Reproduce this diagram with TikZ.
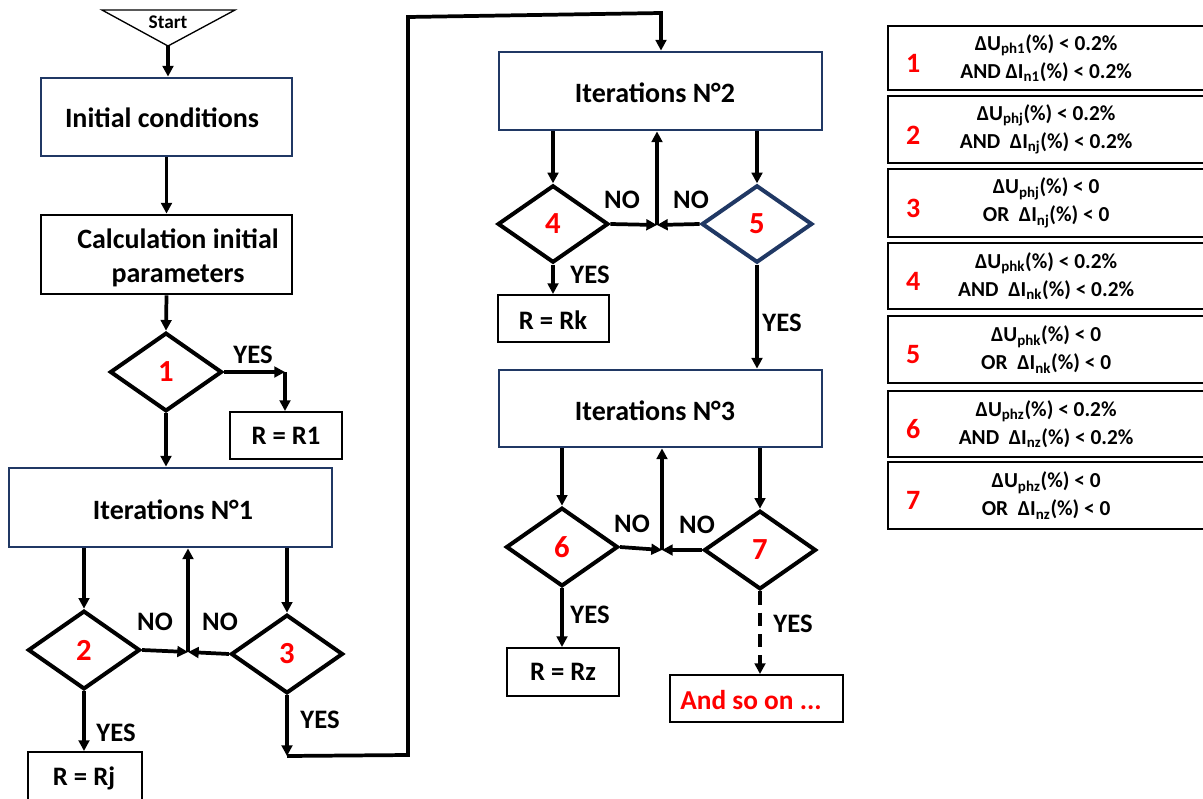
\documentclass[tikz,border=0pt]{standalone}
\usepackage{fontspec}
\setmainfont{Carlito}
\usetikzlibrary{shapes.geometric,arrows.meta,fit}
\definecolor{navy}{HTML}{203864}
\begin{document}
\begin{tikzpicture}[x=0.75pt,y=-0.75pt,
 font=\bfseries,
 arr/.style={line width=2.8pt,-{Triangle[length=8pt,width=8pt]}},
 box/.style={draw, line width=2.1pt, inner sep=0pt},
 navybox/.style={box, draw=navy},
 txt/.style={inner sep=0pt, font=\bfseries\fontsize{21}{26}\selectfont, align=center},
 rbox/.style={draw, line width=1.5pt, inner sep=0pt},
 rtxt/.style={inner sep=0pt, font=\bfseries\fontsize{20}{24}\selectfont},
 dia/.style={diamond, draw, line width=3pt, inner sep=0pt, minimum width=84pt, minimum height=59pt, text=red, font=\bfseries\fontsize{23}{26}\selectfont},
 lab/.style={font=\bfseries\fontsize{20}{24}\selectfont, inner sep=0pt},
 leg/.style={draw, line width=1.3pt, inner sep=0pt},
 legtxt/.style={align=center, inner sep=0pt, font=\bfseries\fontsize{16}{21}\selectfont},
 legnum/.style={text=red, inner sep=0pt, font=\bfseries\fontsize{21}{24}\selectfont}
]
\useasboundingbox (0,0) rectangle (1203,799);
% start
\coordinate (sa) at (168,46);
\draw[line width=1pt] (102,10) -- (235,10) -- (sa) -- cycle;
\node[inner sep=0pt, font=\bfseries\fontsize{14.5}{17}\selectfont] (start) at (168,22) {Start};
\node[navybox, fit={(41,78)(292,156)}] (init) {};
\node[txt] (initt) at (162,118) {Initial conditions};
\node[box, fit={(41,215)(292,294)}] (calc) {};
\node[txt] (calct) at (178,258) {Calculation initial\\parameters};
\node[dia] (d1) at (166,372) {1};
\node[rbox, fit={(230,412)(342,459)}] (r1) {};
\node[rtxt] (r1t) at (286,436) {R = R1};
\coordinate (c1) at (285,372);
\draw[arr] (sa) -- (sa |- init.north);
\draw[arr] (init.south) -- (calc.north);
\draw[arr] (calc.south) -- (d1.north);
\draw[arr] (d1.east) -- (c1);
\draw[arr] (c1) -- (c1 |- r1.north);
\node[lab] (y1) at (253,355) {YES};
% iteration 1
\node[navybox, fit={(9,468)(332,547)}] (it1) {};
\node[txt] (it1t) at (173,510) {Iterations N°1};
\draw[arr] (d1.south) -- (d1.south |- it1.north);
\node[dia] (d2) at (84,650) {2};
\node[dia] (d3) at (287,654) {3};
\coordinate (j1) at (188,652);
\draw[arr] (d2.north |- it1.south) -- (d2.north);
\draw[arr] (d3.north |- it1.south) -- (d3.north);
\draw[arr] (d2.east) -- (j1);
\draw[arr] (d3.west) -- (j1);
\draw[arr] (j1) -- (j1 |- it1.south);
\node[lab] (n1) at (155,622) {NO};
\node[lab] (n2) at (220,622) {NO};
\node[rbox, fit={(28,752)(142,810)}] (rj) {};
\node[rtxt] (rjt) at (84,778) {R = Rj};
\draw[arr] (d2.south) -- (d2.south |- rj.north);
\node[lab] (y2) at (116,733) {YES};
\coordinate (c3) at (287,756);
\draw[arr] (d3.south) -- (c3);
\node[lab] (y3) at (320,720) {YES};
% long connector
\node[navybox, fit={(499,52)(822,130)}] (it2) {};
\node[txt] (it2t) at (655,93) {Iterations N°2};
\coordinate (k1) at (408,755);
\coordinate (k2) at (408,17);
\coordinate (k3) at (661,13);
\draw[arr] (c3) -- (k1) -- (k2) -- (k3) -- (k3 |- it2.north);
% iteration 2
\node[dia, minimum width=83pt, minimum height=58pt] (d4) at (553,224) {4};
\node[dia, minimum width=83pt, minimum height=58pt, draw=navy] (d5) at (757,224) {5};
\coordinate (j2) at (657,225);
\draw[arr] (d4.north |- it2.south) -- (d4.north);
\draw[arr] (d5.north |- it2.south) -- (d5.north);
\draw[arr] (d4.east) -- (j2);
\draw[arr] (d5.west) -- (j2);
\draw[arr] (j2) -- (j2 |- it2.south);
\node[lab] (n3) at (622,200) {NO};
\node[lab] (n4) at (691,200) {NO};
\node[rbox, fit={(498,295)(609,342)}] (rk) {};
\node[rtxt] (rkt) at (553,320) {R = Rk};
\draw[arr] (d4.south) -- (d4.south |- rk.north);
\node[lab] (y4) at (590,275) {YES};
% iteration 3
\node[navybox, fit={(499,370)(822,447)}] (it3) {};
\node[txt] (it3t) at (655,411) {Iterations N°3};
\draw[arr] (d5.south) -- (d5.south |- it3.north);
\node[lab] (y5) at (782,323) {YES};
\node[dia] (d6) at (562,547) {6};
\node[dia] (d7) at (760,550) {7};
\coordinate (j3) at (662,550);
\draw[arr] (d6.north |- it3.south) -- (d6.north);
\draw[arr] (d7.north |- it3.south) -- (d7.north);
\draw[arr] (d6.east) -- (j3);
\draw[arr] (d7.west) -- (j3);
\draw[arr] (j3) -- (j3 |- it3.south);
\node[lab] (n5) at (632,524) {NO};
\node[lab] (n6) at (697,525) {NO};
\node[rbox, fit={(507,648)(619,696)}] (rz) {};
\node[rtxt] (rzt) at (563,672) {R = Rz};
\draw[arr] (d6.south) -- (d6.south |- rz.north);
\node[lab] (y6) at (590,615) {YES};
\node[rbox, fit={(670,675)(843,722)}] (so) {};
\node[inner sep=0pt, text=red, font=\bfseries\fontsize{20.5}{24}\selectfont] (sot) at (751,700) {And so on ...};
\draw[arr, dash pattern=on 10pt off 6pt] (d7.south) -- (d7.south |- so.north);
\node[lab] (y7) at (793,624) {YES};
% legend
\foreach \i/\ya/\yb/\la/\lb in {
 1/26/90/{ΔU\textsubscript{ph1}(\%) < 0.2\%}/{AND ΔI\textsubscript{n1}(\%) < 0.2\%},
 2/96/163/{ΔU\textsubscript{phj}(\%) < 0.2\%}/{AND\ \ ΔI\textsubscript{nj}(\%) < 0.2\%},
 3/169/237/{ΔU\textsubscript{phj}(\%) < 0}/{OR\ \ ΔI\textsubscript{nj}(\%) < 0},
 4/243/309/{ΔU\textsubscript{phk}(\%) < 0.2\%}/{AND\ \ ΔI\textsubscript{nk}(\%) < 0.2\%},
 5/316/383/{ΔU\textsubscript{phk}(\%) < 0}/{OR\ \ ΔI\textsubscript{nk}(\%) < 0},
 6/391/457/{ΔU\textsubscript{phz}(\%) < 0.2\%}/{AND\ \ ΔI\textsubscript{nz}(\%) < 0.2\%},
 7/462/529/{ΔU\textsubscript{phz}(\%) < 0}/{OR\ \ ΔI\textsubscript{nz}(\%) < 0}}{
 \node[leg, fit={(888,\ya)(1210,\yb)}] (leg\i) {};
 \node[legnum] (ln\i) at ([xshift=19.5pt,yshift=-4pt]leg\i.west) {\i};
 \node[legtxt] (lt\i) at ([xshift=119.25pt]leg\i.west) {\la\\\lb};
}
\end{tikzpicture}
\end{document}
